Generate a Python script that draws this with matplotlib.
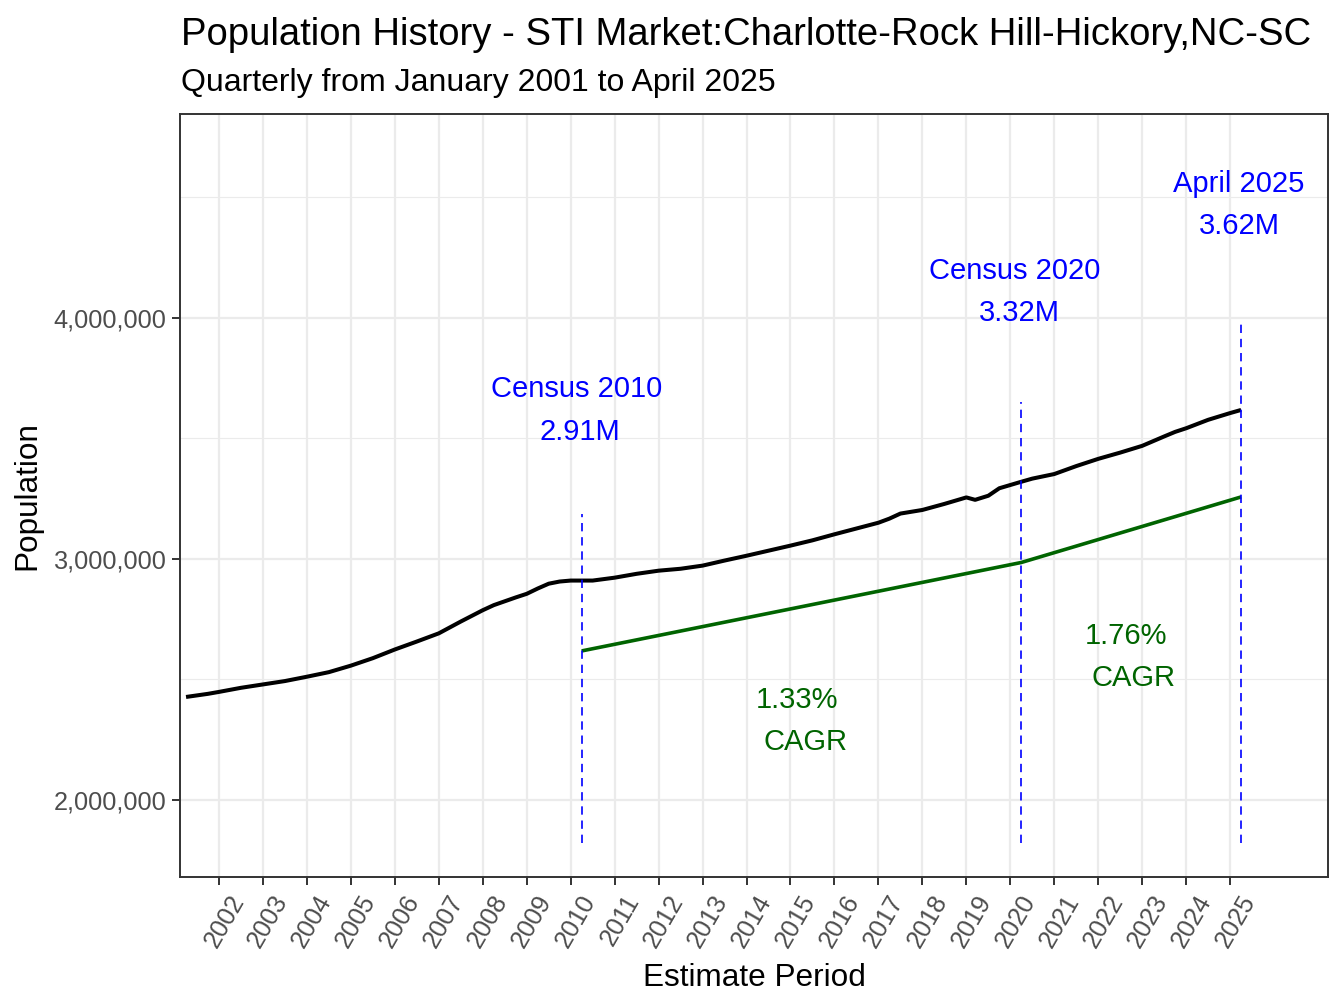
import matplotlib
matplotlib.use("Agg")
import matplotlib.pyplot as plt
import matplotlib.transforms as mtransforms
from matplotlib.ticker import FuncFormatter, MultipleLocator

plt.rcParams['font.family'] = ['Liberation Sans', 'DejaVu Sans']

# ---- data ----
years = [2001.25, 2001.75, 2002.0, 2002.5, 2003.0, 2003.5, 2004.0, 2004.5,
         2005.0, 2005.5, 2006.0, 2006.5, 2007.0, 2007.5, 2008.0, 2008.25,
         2008.5, 2008.75, 2009.0, 2009.25, 2009.5, 2009.75, 2010.0, 2010.25,
         2010.5, 2011.0, 2011.5, 2012.0, 2012.5, 2013.0, 2013.5, 2014.0,
         2014.5, 2015.0, 2015.5, 2016.0, 2016.5, 2017.0, 2017.25, 2017.5,
         2018.0, 2018.5, 2019.0, 2019.2, 2019.5, 2019.75, 2020.25, 2020.5,
         2021.0, 2021.5, 2022.0, 2022.5, 2023.0, 2023.5, 2023.75, 2024.0,
         2024.5, 2025.0, 2025.25]
population = [2.427, 2.440, 2.448, 2.465, 2.479, 2.493, 2.511, 2.530,
              2.557, 2.588, 2.624, 2.657, 2.691, 2.740, 2.787, 2.808,
              2.824, 2.840, 2.855, 2.877, 2.897, 2.906, 2.910, 2.910,
              2.910, 2.922, 2.938, 2.951, 2.959, 2.972, 2.993, 3.013,
              3.034, 3.055, 3.077, 3.102, 3.126, 3.150, 3.167, 3.188,
              3.203, 3.228, 3.255, 3.245, 3.262, 3.293, 3.320, 3.333,
              3.352, 3.385, 3.415, 3.441, 3.469, 3.508, 3.527, 3.542,
              3.577, 3.605, 3.618]
population = [v * 1e6 for v in population]

cagr_years = [2010.25, 2020.25, 2025.25]
cagr_values = [2.618e6, 2.985e6, 3.257e6]

event_years = [2010.25, 2020.25, 2025.25]
event_names = ["Census 2010", "Census 2020", "April 2025"]
event_labels = ["2.91M", "3.32M", "3.62M"]
event_line_top = [3.185e6, 3.650e6, 3.985e6]
event_line_bottom = 1.82e6

cagr_labels = ["1.33%", "1.76%"]

tick_years = list(range(2002, 2026))

# ---- layout constants ----
name_pos = [(2010.14, 3.705e6), (2020.11, 4.195e6), (2025.20, 4.556e6)]
val_pos = [(2010.21, 3.527e6), (2020.20, 4.021e6), (2025.20, 4.382e6)]
pct_pos = [(2015.15, 2.415e6), (2022.63, 2.680e6)]
cagr_txt_pos = [(2015.33, 2.241e6), (2022.81, 2.506e6)]

fig = plt.figure(figsize=(13.44, 10.08), dpi=100)
ax = fig.add_axes([0.1343, 0.1295, 0.9881 - 0.1343, 0.8869 - 0.1295])

ax.set_xlim(2001.124, 2027.227)
ax.set_ylim(1.678e6, 4.846e6)

# grid
ax.set_xticks(tick_years)
ax.set_xticklabels([str(y) for y in tick_years])
ax.yaxis.set_major_locator(MultipleLocator(1e6))
ax.yaxis.set_minor_locator(MultipleLocator(5e5))
ax.yaxis.set_major_formatter(FuncFormatter(lambda v, p: f"{int(v):,}"))
ax.grid(True, which='major', color='#EBEBEB', linewidth=1.6)
ax.grid(True, which='minor', axis='y', color='#EBEBEB', linewidth=0.8)
ax.set_axisbelow(True)
ax.tick_params(axis='y', which='minor', length=0)
ax.tick_params(axis='both', which='major', length=6, width=1.4, color='#333333',
               labelcolor='#4D4D4D', labelsize=18.2)
ax.tick_params(axis='y', pad=4)
for s in ax.spines.values():
    s.set_color('#333333')
    s.set_linewidth(1.4)

shift = mtransforms.ScaledTranslation(9 / 100, 0, fig.dpi_scale_trans)
for lab in ax.get_xticklabels():
    lab.set_rotation(60)
    lab.set_ha('right')
    lab.set_va('top')
    lab.set_rotation_mode('anchor')
    lab.set_transform(lab.get_transform() + shift)

# lines
ax.plot(years, population, color='black', linewidth=2.9, solid_capstyle='butt',
        solid_joinstyle='round', zorder=3)
ax.plot(cagr_years, cagr_values, color='#006400', linewidth=2.6, solid_capstyle='butt', zorder=3)

for x, top in zip(event_years, event_line_top):
    ax.plot([x, x], [event_line_bottom, top], color='blue', linewidth=1.2,
            dashes=(5, 3.5), zorder=4)

for (x, y), t in zip(name_pos, event_names):
    ax.text(x, y, t, color='blue', fontsize=21, ha='center', va='center')
for (x, y), t in zip(val_pos, event_labels):
    ax.text(x, y, t, color='blue', fontsize=21, ha='center', va='center')
for (x, y), t in zip(pct_pos, cagr_labels):
    ax.text(x, y, t, color='#006400', fontsize=21, ha='center', va='center')
for (x, y) in cagr_txt_pos:
    ax.text(x, y, "CAGR", color='#006400', fontsize=21, ha='center', va='center')

ax.set_xlabel("Estimate Period", fontsize=22.7, color='black', labelpad=8.5)
ax.set_ylabel("Population", fontsize=22.7, color='black', labelpad=8)

fig.text(181 / 1344, 1 - 45 / 1008,
         "Population History - STI Market:Charlotte-Rock Hill-Hickory,NC-SC",
         fontsize=27.5, ha='left', va='baseline')
fig.text(181 / 1344, 1 - 91 / 1008,
         "Quarterly from January 2001 to April 2025",
         fontsize=23, ha='left', va='baseline')

fig.savefig("out.png", dpi=100, facecolor='white')
